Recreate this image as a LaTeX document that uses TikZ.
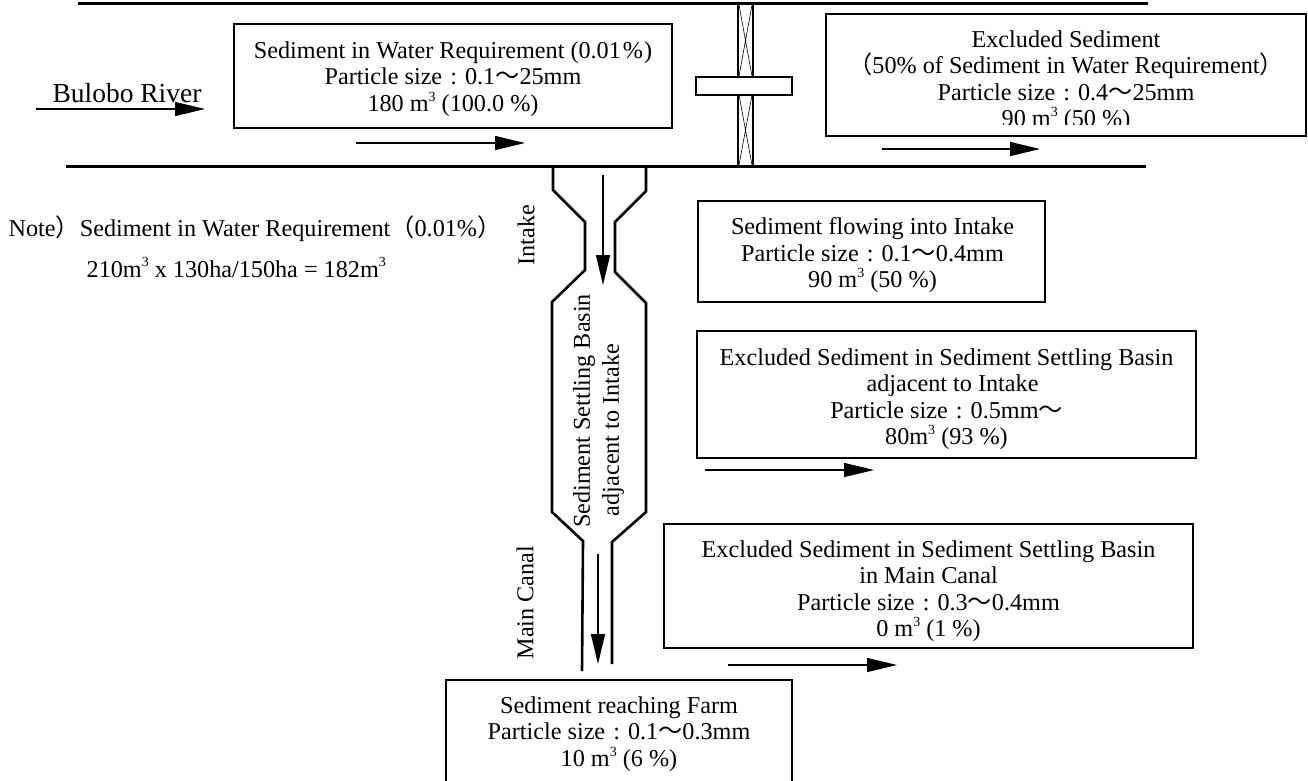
\documentclass[tikz,border=0pt]{standalone}
\usepackage{fontspec}
\setmainfont{Liberation Serif}
\newfontfamily\cjk{Noto Sans CJK SC}
\usetikzlibrary{arrows.meta}
\newcommand{\wave}{{\cjk ～}}
\newcommand{\lpar}{{\cjk （}}
\newcommand{\rpar}{{\cjk ）}}
\newcommand{\cubed}{\raisebox{.42em}{\fontsize{14}{14}\selectfont 3}}
\newcommand{\sizecolon}{\kern2pt\ :\ \kern2pt}

\begin{document}
\begin{tikzpicture}[x=1pt,y=-1pt,line width=1.3pt,>={Triangle[length=30pt,width=14pt]},
  font=\fontsize{24.2}{26.5}\selectfont,
  flowbox/.style={draw,line width=2pt,inner sep=0pt},
  bank/.style={line width=3pt},
  wall/.style={line width=2.6pt},
  caption/.style={inner sep=0pt,align=center}]
\useasboundingbox (0,0) rectangle (1308,780);
% river banks
\draw[bank] (78,3) -- (1148,3);
\draw[bank] (66,166) -- (1146,166);
% gate
\draw[wall] (738,3) -- (738,166);
\draw[wall] (753,3) -- (753,166);
\draw[line width=0.6pt] (739,5) -- (752,76) (752,5) -- (739,76);
\draw[line width=0.6pt] (739,95) -- (752,165) (752,95) -- (739,165);
\draw[wall,fill=white] (696,77) rectangle (792,95);
% intake and settling basin
\draw[wall] (553,166) -- (553,190) -- (585,222) -- (585,270) -- (552,302) -- (552,512) -- (583,541) -- (582,671);
\draw[wall] (646,166) -- (646,191) -- (615,222) -- (615,272) -- (646,303) -- (646,512) -- (612,542) -- (612,664);
% boxes
\node[flowbox,minimum width=438pt,minimum height=104pt] (demandbox) at (453,76) {};
\node[caption] (demandtext) at (453,79)
  {Sediment in Water Requirement\kern6pt(0.01\kern2pt\%\kern1pt)\\Particle size\sizecolon 0.1\wave 25mm\\180 m\cubed\ (100.0 \%)};
\node[flowbox,minimum width=480pt,minimum height=122pt] (excludedbox) at (1066,75) {};
\begin{scope}
  \clip (826,14) rectangle (1306,124);
  \node[caption] (excludedtext) at (1066,81)
    {Excluded Sediment\\\lpar 50\% of Sediment in Water Requirement\rpar\\Particle size\sizecolon 0.4\wave 25mm\\90 m\cubed\ (50 \%)};
\end{scope}
\node[flowbox,minimum width=347pt,minimum height=101pt] (intakebox) at (871.5,251.5) {};
\node[caption] (intaketext) at (872.5,255.5)
  {Sediment flowing into Intake\\Particle size\sizecolon 0.1\wave 0.4mm\\90 m\cubed\ (50 \%)};
\node[flowbox,minimum width=499pt,minimum height=127pt] (basinbox) at (946.5,394.5) {};
\node[caption] (basintext) at (946.5,399)
  {Excluded Sediment in Sediment Settling Basin\\\hspace*{12pt}adjacent to Intake\\Particle size\sizecolon 0.5mm\wave\\80m\cubed\ (93 \%)};
\node[flowbox,minimum width=529pt,minimum height=124pt] (canalbox) at (928.5,586) {};
\node[caption] (canaltext) at (928.5,591)
  {Excluded Sediment in Sediment Settling Basin\\in Main Canal\\Particle size\sizecolon 0.3\wave 0.4mm\\0 m\cubed\ (1 \%)};
\node[flowbox,minimum width=346pt,minimum height=110pt] (farmbox) at (619,735) {};
\node[caption] (farmtext) at (619,734)
  {Sediment reaching Farm\\Particle size\sizecolon 0.1\wave 0.3mm\\10 m\cubed\ (6 \%)};
% flow arrows
\draw[->] (36,109) -- (205,109);
\draw[->] (356,143) -- (525,143);
\draw[->] (882,149) -- (1040,149);
\draw[->] (705,470) -- (874,470);
\draw[->] (728,665) -- (897,665);
\draw[->] (603,175) -- (603,285);
\draw[->] (598,554) -- (598,664);
% labels
\node[caption,anchor=base,font=\fontsize{27.5}{30}\selectfont] (river) at (127,102) {Bulobo River};
\node[caption,rotate=90] (intakelabel) at (526,235) {Intake};
\node[caption,rotate=90] (mainlabel) at (525,602.5) {Main Canal};
\node[caption,rotate=90] (basinlabel) at (584,411) {Sediment Settling Basin};
\node[caption,rotate=90] (adjacentlabel) at (613,430) {adjacent to Intake};
\node[caption,anchor=base west] (note) at (8,236) {Note\rpar Sediment in Water Requirement\lpar 0.01\%\rpar};
\node[caption,anchor=base west] (noteline) at (86,277) {210m\cubed\ x 130ha/150ha = 182m\cubed};
\end{tikzpicture}
\end{document}
